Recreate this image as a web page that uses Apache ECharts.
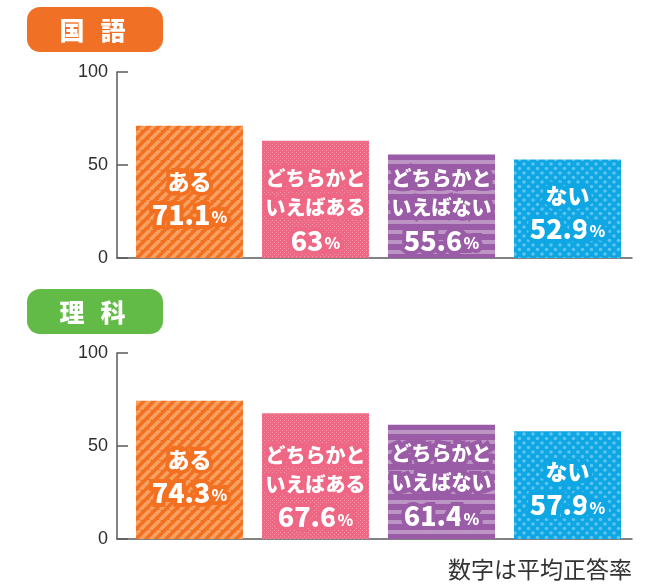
<!DOCTYPE html>
<html lang="ja">
<head>
    <meta charset="utf-8">
    <title>平均正答率</title>
    <style>
        html, body { margin: 0; padding: 0; background: #fff; }
        #chart { width: 659px; height: 586px; }
    </style>
    <script src="https://cdn.jsdelivr.net/npm/echarts@6/dist/echarts.min.js"></script>
</head>
<body>
    <div id="chart"></div>

    <script>
        // data
        var categories = ['ある', 'どちらかと\nいえばある', 'どちらかと\nいえばない', 'ない'];
        var kokugo = [71.1, 63, 55.6, 52.9];
        var rika = [74.3, 67.6, 61.4, 57.9];
        var subjects = ['国語', '理科'];
        var yTicks = [0, 50, 100];
        var note = '数字は平均正答率';

        var baseColors = ['#f37021', '#ee6784', '#9a5ca6', '#0fa6e4'];
        var labelShift = [8, 12, 5, 5];

        // pattern tiles for each bar
        function tile(w, h, draw) {
            var c = document.createElement('canvas');
            c.width = w; c.height = h;
            draw(c.getContext('2d'), w, h);
            return { image: c, repeat: 'repeat' };
        }
        var patterns = [
            tile(10, 10, function (g, w, h) {
                g.fillStyle = '#f37021'; g.fillRect(0, 0, w, h);
                g.strokeStyle = '#f6a062'; g.lineWidth = 3.5;
                for (var k = -1; k <= 1; k++) {
                    g.beginPath(); g.moveTo(k * 10, 10); g.lineTo(k * 10 + 10, 0); g.stroke();
                }
            }),
            tile(4, 4, function (g, w, h) {
                g.fillStyle = '#ee6784'; g.fillRect(0, 0, w, h);
                g.fillStyle = '#f392a6';
                g.fillRect(0, 0, 1, 1); g.fillRect(2, 2, 1, 1);
            }),
            tile(10, 10, function (g, w, h) {
                g.fillStyle = '#9a5ca6'; g.fillRect(0, 0, w, h);
                g.fillStyle = '#bd95c5'; g.fillRect(0, 0, w, 4);
            }),
            tile(9, 9, function (g, w, h) {
                g.fillStyle = '#0fa6e4'; g.fillRect(0, 0, w, h);
                g.fillStyle = '#5bc4ef';
                g.beginPath(); g.arc(2, 2, 1.8, 0, Math.PI * 2); g.fill();
                g.beginPath(); g.arc(6.5, 6.5, 1.8, 0, Math.PI * 2); g.fill();
            })
        ];

        function labelFor(i) {
            var bc = baseColors[i];
            var s = { color: '#fff', fontWeight: 900, fontFamily: 'Noto Sans CJK JP',
                      textBorderColor: bc, textBorderWidth: 8 };
            // one-line names are set a bit larger
            var nameSize = categories[i].indexOf('\n') < 0 ? 22 : 20;
            return {
                show: true,
                position: 'inside',
                offset: [0, labelShift[i]],
                formatter: function (p) {
                    var lines = categories[p.dataIndex].split('\n').map(function (l) { return '{a|' + l + '}'; });
                    return lines.join('\n') + '\n{n|' + p.value[1] + '}{p|%}';
                },
                rich: {
                    a: Object.assign({ fontSize: nameSize, lineHeight: 29 }, s),
                    n: Object.assign({ fontSize: 27, lineHeight: 37 }, s),
                    p: Object.assign({ fontSize: 16, lineHeight: 37, padding: [6, 0, 0, 1] }, s)
                }
            };
        }

        function seriesData(vals) {
            return vals.map(function (v, i) {
                return { value: [i, v], name: categories[i], itemStyle: { color: patterns[i] }, label: labelFor(i) };
            });
        }

        var grids = [
            { left: 117, top: 72, width: 515, height: 186 },
            { left: 117, top: 353, width: 515, height: 186 }
        ];

        var axisColor = '#5a5a5a';
        var xAxes = grids.map(function (g, k) {
            return {
                gridIndex: k, type: 'value', min: -0.5754, max: 3.5119,
                axisLine: { show: true, onZero: false, lineStyle: { color: axisColor, width: 1.5 } },
                axisTick: { show: false }, axisLabel: { show: false }, splitLine: { show: false }
            };
        });
        var yAxes = grids.map(function (g, k) {
            return {
                gridIndex: k, type: 'value', min: yTicks[0], max: yTicks[yTicks.length - 1],
                interval: yTicks[1] - yTicks[0],
                axisLine: { show: true, onZero: false, lineStyle: { color: axisColor, width: 1.5 } },
                axisTick: { show: true, inside: true, length: 11, lineStyle: { color: axisColor, width: 1.5 } },
                axisLabel: { color: '#2e2e2e', fontSize: 18, margin: 9, fontFamily: 'Liberation Sans' },
                splitLine: { show: false }
            };
        });

        function badge(y, color, text) {
            var chars = text.split('');
            var f = '900 25px "Noto Sans CJK JP"';
            return {
                type: 'group', left: 27, top: y,
                children: [
                    { type: 'rect', shape: { x: 0, y: 0, width: 136, height: 45, r: 13 }, style: { fill: color } },
                    { type: 'text', x: 45, y: 23, style: { text: chars[0], fill: '#fff', font: f, align: 'center', verticalAlign: 'middle' } },
                    { type: 'text', x: 86, y: 23, style: { text: chars[1], fill: '#fff', font: f, align: 'center', verticalAlign: 'middle' } }
                ]
            };
        }

        var option = {
            backgroundColor: '#fff',
            animation: false,
            grid: grids,
            xAxis: xAxes,
            yAxis: yAxes,
            series: [
                { type: 'bar', xAxisIndex: 0, yAxisIndex: 0, barWidth: 107, data: seriesData(kokugo) },
                { type: 'bar', xAxisIndex: 1, yAxisIndex: 1, barWidth: 107, data: seriesData(rika) }
            ],
            graphic: [
                badge(7, '#f07125', subjects[0]),
                badge(289, '#62bb46', subjects[1]),
                { type: 'text', right: 27, top: 558, style: { text: note, fill: '#333', font: '23px "Noto Sans CJK JP"' } }
            ]
        };

        var myChart = echarts.init(document.getElementById('chart'));
        myChart.setOption(option);
    </script>
</body>
</html>
